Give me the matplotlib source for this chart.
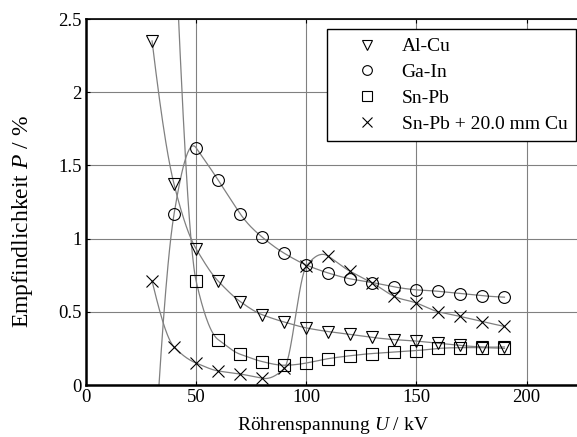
import numpy as np
import matplotlib
matplotlib.use("Agg")
import matplotlib.pyplot as plt
from matplotlib.lines import Line2D

plt.rcParams['font.family'] = ['Liberation Serif', 'DejaVu Serif']
plt.rcParams['mathtext.fontset'] = 'custom'
plt.rcParams['mathtext.rm'] = 'Liberation Serif'
plt.rcParams['mathtext.it'] = 'Liberation Serif:italic'

# Messwerte (Röhrenspannung in kV, Empfindlichkeit in %)
u_alcu = [30, 40, 50, 60, 70, 80, 90, 100, 110, 120, 130, 140, 150, 160, 170, 180, 190]
p_alcu = [2.35, 1.37, 0.93, 0.71, 0.57, 0.48, 0.43, 0.39, 0.365, 0.345, 0.325, 0.31,
          0.30, 0.285, 0.27, 0.26, 0.26]

u_gain = [30, 40, 50, 60, 70, 80, 90, 100, 110, 120, 130, 140, 150, 160, 170, 180, 190]
p_gain = [-0.8, 1.17, 1.62, 1.40, 1.17, 1.01, 0.90, 0.82, 0.765, 0.725, 0.70, 0.67,
          0.65, 0.64, 0.625, 0.61, 0.60]

u_snpb = [40, 50, 60, 70, 80, 90, 100, 110, 120, 130, 140, 150, 160, 170, 180, 190]
p_snpb = [3.2, 0.71, 0.31, 0.21, 0.16, 0.135, 0.15, 0.18, 0.20, 0.215, 0.225, 0.235,
          0.25, 0.255, 0.255, 0.25]

u_snpbcu = [30, 40, 50, 60, 70, 80, 90, 100, 110, 120, 130, 140, 150, 160, 170, 180, 190]
p_snpbcu = [0.71, 0.26, 0.15, 0.096, 0.075, 0.046, 0.114, 0.81, 0.88, 0.776, 0.697,
            0.605, 0.56, 0.50, 0.468, 0.433, 0.40]

labels = ['Al-Cu', 'Ga-In', 'Sn-Pb', 'Sn-Pb + 20.0 mm Cu']
markers = ['v', 'o', 's', 'x']


def akima_curve(x, y, n=30):
    # Akima-Interpolation durch die Messpunkte
    x = np.asarray(x, float)
    y = np.asarray(y, float)
    m = np.diff(y) / np.diff(x)
    mm = np.concatenate([[3 * m[0] - 2 * m[1], 2 * m[0] - m[1]], m,
                         [2 * m[-1] - m[-2], 3 * m[-1] - 2 * m[-2]]])
    d = np.zeros(len(x))
    for i in range(len(x)):
        m0, m1, m2, m3 = mm[i], mm[i + 1], mm[i + 2], mm[i + 3]
        w1, w2 = abs(m3 - m2), abs(m1 - m0)
        d[i] = 0.5 * (m1 + m2) if w1 + w2 < 1e-12 else (w1 * m1 + w2 * m2) / (w1 + w2)
    xs, ys = [], []
    for i in range(len(x) - 1):
        h = x[i + 1] - x[i]
        t = np.linspace(0, 1, n)
        s = ((2 * t ** 3 - 3 * t ** 2 + 1) * y[i] + (t ** 3 - 2 * t ** 2 + t) * h * d[i]
             + (-2 * t ** 3 + 3 * t ** 2) * y[i + 1] + (t ** 3 - t ** 2) * h * d[i + 1])
        xs.append(x[i] + t * h)
        ys.append(s)
    return np.concatenate(xs), np.concatenate(ys)


W, H = 577, 437
fig = plt.figure(figsize=(W / 100, H / 100), dpi=100)
x_left, x_bottom, x_top = 86, 385, 19
px_per_kv = (526.5 - 86) / 200
xmax = 230
ax_w = xmax * px_per_kv
ax_h = x_bottom - x_top
ax = fig.add_axes([x_left / W, (H - x_bottom) / H, ax_w / W, ax_h / H])

series = [(u_alcu, p_alcu), (u_gain, p_gain), (u_snpb, p_snpb), (u_snpbcu, p_snpbcu)]
for (u, p), mk in zip(series, markers):
    xs, ys = akima_curve(u, p)
    ax.plot(xs, ys, color='#808080', lw=0.9, zorder=2)
    ax.plot(u, p, linestyle='none', marker=mk, markersize=8.5 if mk != 's' else 8,
            markerfacecolor='none', markeredgecolor='black', markeredgewidth=0.8, zorder=3)

ax.set_xlim(0, xmax)
ax.set_ylim(0, 2.5)
ax.set_xticks([0, 50, 100, 150, 200])
ax.set_yticks([0, 0.5, 1, 1.5, 2, 2.5])
ax.set_yticklabels(['0', '0.5', '1', '1.5', '2', '2.5'])
ax.grid(True, color='#808080', lw=0.8)
ax.set_axisbelow(True)
ax.tick_params(direction='in', length=3, width=0.8, labelsize=13.5, top=True, pad=3)

ax.spines['left'].set_linewidth(1.8)
ax.spines['bottom'].set_linewidth(1.8)
ax.spines['top'].set_linewidth(1.2)
ax.spines['right'].set_visible(False)

ax.set_xlabel('Röhrenspannung $\\mathit{U}$ / kV', fontsize=14)
ax.set_ylabel('Empfindlichkeit $\\mathit{P}$ / %', fontsize=17)
ax.xaxis.set_label_coords((333 - x_left) / ax_w, (x_bottom - 415) / ax_h)
ax.yaxis.set_label_coords((35 - x_left) / ax_w, (x_bottom - 222) / ax_h)

handles = [Line2D([], [], linestyle='none', marker=mk, markersize=7,
                  markerfacecolor='none', markeredgecolor='black', markeredgewidth=0.8)
           for mk in markers]
leg = fig.legend(handles, labels, loc='upper right',
                 bbox_to_anchor=(576 / W, 1 - 29 / H), fontsize=14,
                 frameon=True, fancybox=False, edgecolor='black', framealpha=1,
                 borderpad=0.45, labelspacing=0.42, handlelength=3.3, handletextpad=0.1,
                 borderaxespad=0)
leg.get_frame().set_linewidth(1.0)

fig.savefig('out.png', dpi=100)
